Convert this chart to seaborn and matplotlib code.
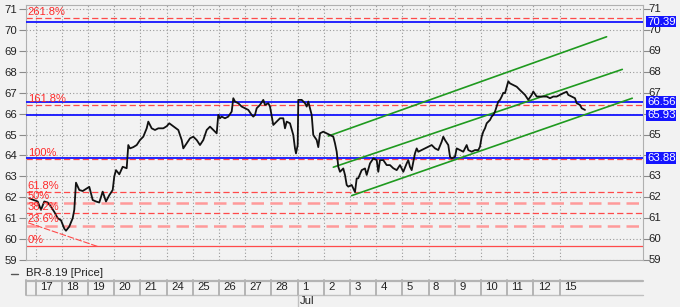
import numpy as np
import pandas as pd
import matplotlib
matplotlib.use("Agg")
import matplotlib.pyplot as plt
import matplotlib.transforms as mtransforms
from matplotlib.lines import Line2D
import seaborn as sns

# ---------------- data ----------------
# trading day labels (June 17 ... July 15)
day_labels = ['17', '18', '19', '20', '21', '24', '25', '26', '27', '28',
              '1', '2', '3', '4', '5', '8', '9', '10', '11', '12', '15']
month_label = 'Jul'
month_label_day = 10

# price path: position in trading days since June 17 open, price
t_days = [-0.244, 0.076, 0.202, 0.328, 0.458, 0.584, 0.710, 0.840, 0.966, 1.092,
          1.156, 1.282, 1.412, 1.473, 1.538, 1.664, 1.794, 1.920, 2.046, 2.176,
          2.302, 2.427, 2.557, 2.683, 2.809, 2.939, 3.000, 3.065, 3.191, 3.321,
          3.473, 3.534, 3.599, 3.725, 3.855, 3.981, 4.107, 4.237, 4.298, 4.427,
          4.553, 4.679, 4.870, 5.000, 5.099, 5.252, 5.443, 5.573, 5.634, 5.763,
          5.889, 6.015, 6.145, 6.271, 6.397, 6.527, 6.653, 6.779, 6.908, 6.969,
          7.034, 7.099, 7.225, 7.351, 7.481, 7.542, 7.607, 7.733, 7.863, 7.989,
          8.115, 8.244, 8.305, 8.370, 8.435, 8.561, 8.687, 8.752, 8.878, 8.943,
          9.069, 9.198, 9.324, 9.450, 9.515, 9.580, 9.706, 9.832, 9.897, 9.935,
          10.000, 10.023, 10.153, 10.279, 10.344, 10.405, 10.534, 10.595, 10.725, 10.786,
          10.851, 10.977, 11.107, 11.233, 11.359, 11.424, 11.489, 11.550, 11.615, 11.740,
          11.805, 11.870, 11.931, 12.061, 12.122, 12.187, 12.252, 12.313, 12.443, 12.569,
          12.634, 12.760, 12.886, 13.015, 13.076, 13.141, 13.267, 13.397, 13.523, 13.649,
          13.779, 13.905, 14.031, 14.160, 14.221, 14.286, 14.351, 14.477, 14.542, 14.603,
          14.733, 14.859, 14.985, 15.115, 15.241, 15.366, 15.496, 15.557, 15.622, 15.748,
          15.813, 15.878, 16.004, 16.069, 16.195, 16.321, 16.450, 16.511, 16.641, 16.767,
          16.893, 16.958, 17.023, 17.084, 17.149, 17.214, 17.275, 17.340, 17.405, 17.466,
          17.531, 17.595, 17.656, 17.721, 17.786, 17.847, 17.912, 18.038, 18.103, 18.229,
          18.359, 18.485, 18.611, 18.676, 18.802, 18.931, 18.992, 19.122, 19.248, 19.374,
          19.504, 19.630, 19.756, 19.885, 20.011, 20.137, 20.267, 20.328, 20.458, 20.584,
          20.649, 20.775, 20.840, 20.966]
price = [61.95, 61.80, 61.40, 61.80, 61.75, 61.55, 61.30, 61.00, 60.90, 60.50,
         60.40, 60.60, 61.00, 61.40, 62.70, 62.35, 62.30, 62.40, 62.50, 61.87,
         61.80, 61.75, 62.27, 61.80, 62.10, 62.35, 63.00, 63.30, 63.10, 63.46,
         63.39, 64.50, 64.34, 64.40, 64.50, 64.74, 64.90, 65.30, 65.62, 65.30,
         65.22, 65.30, 65.30, 65.40, 65.54, 65.40, 65.22, 64.74, 64.34, 64.58,
         64.82, 64.90, 64.74, 64.50, 64.74, 65.22, 65.38, 65.22, 65.06, 65.94,
         65.78, 65.86, 65.78, 65.86, 66.10, 66.74, 66.58, 66.50, 66.34, 66.26,
         66.18, 65.94, 65.86, 65.94, 66.26, 66.42, 66.66, 66.42, 66.50, 66.34,
         65.46, 65.62, 65.78, 65.78, 65.30, 65.62, 65.54, 64.98, 64.34, 64.10,
         64.50, 66.66, 66.66, 66.50, 66.34, 66.58, 65.94, 64.98, 64.74, 64.40,
         65.06, 65.14, 65.06, 64.98, 64.90, 64.58, 64.18, 63.46, 63.22, 63.38,
         63.07, 62.59, 62.51, 62.59, 62.43, 62.25, 62.90, 62.91, 63.30, 63.38,
         63.07, 63.62, 63.86, 63.78, 63.22, 63.78, 63.78, 63.54, 63.54, 63.39,
         63.30, 63.54, 63.22, 63.62, 63.78, 63.46, 63.30, 64.10, 64.34, 64.18,
         64.26, 64.34, 64.42, 64.50, 64.34, 64.26, 64.66, 64.90, 64.74, 64.50,
         63.94, 63.86, 63.94, 64.34, 64.26, 64.18, 64.50, 64.26, 64.18, 64.26,
         64.26, 64.42, 64.90, 65.14, 65.30, 65.54, 65.62, 65.70, 65.86, 65.94,
         66.10, 66.34, 66.58, 66.66, 66.82, 67.00, 66.98, 67.55, 67.45, 67.37,
         67.29, 67.13, 66.98, 66.90, 66.66, 66.90, 67.06, 66.82, 66.82, 66.82,
         66.82, 66.74, 66.82, 66.82, 66.90, 66.98, 67.05, 66.90, 66.82, 66.74,
         66.50, 66.42, 66.26, 66.18]

# Fibonacci levels
fib_labels = ['261.8%', '161.8%', '100%', '61.8%', '50%', '38.2%', '23.6%', '0%']
fib_values = [70.56, 66.40, 63.83, 62.24, 61.75, 61.26, 60.65, 59.67]
fib_heavy = [False, False, False, False, True, False, True, False]
fib_solid = [False, False, False, False, False, False, False, True]
# fib trend line (day, price)
fib_trend_days = [-0.29, 2.38]
fib_trend_prices = [60.78, 59.64]

# horizontal levels (blue)
levels = [70.39, 66.56, 65.93, 63.88]

# green channel lines
chan_start_day = [11.17, 11.36, 12.06]
chan_start_price = [64.93, 63.44, 62.08]
chan_end_day = [21.79, 22.39, 22.77]
chan_end_price = [69.68, 68.12, 66.74]

y_ticks = list(range(59, 72))
right_hidden = [64, 66]   # covered by the level tags on the right scale
series_name = 'BR-8.19 [Price]'

# ---------------- style ----------------
sns.set_style('white')
plt.rcParams['font.family'] = ['Liberation Sans', 'DejaVu Sans']

W, H = 680, 307
BG = '#f2f2f2'
RED = '#ff4a4a'
RED_LIGHT = '#ff9a9a'
BLUE = '#1414ff'
GREEN = '#1f9a1f'
GRID = '#9a9a9a'
FS = 7.7
TXT = '#222222'

fig = plt.figure(figsize=(W / 100, H / 100), dpi=100)
fig.patch.set_facecolor(BG)

def fx(px):
    return px / W

def fy(py):
    return 1 - py / H

L, R, T, B = 26, 643, 5, 260
ax = fig.add_axes([fx(L), fy(B), fx(R) - fx(L), fy(T) - fy(B)])
ax.set_facecolor(BG)

x0 = -0.37
x1 = 23.18
ax.set_xlim(x0, x1)
ax.set_ylim(59, 71.2)

# grid
ax.set_yticks(y_ticks)
ax.set_xticks(np.arange(0, len(day_labels)))
ax.grid(True, color=GRID, linestyle=(0, (1, 2)), linewidth=0.8)
ax.set_axisbelow(True)
ax.tick_params(axis='x', bottom=False, labelbottom=False)
ax.tick_params(axis='y', left=True, right=True, labelleft=True, labelright=False,
               direction='out', length=5, width=0.8, color='#8a8a8a',
               labelsize=FS + 0.5, labelcolor=TXT, pad=1.5)
for s in ax.spines.values():
    s.set_color('#b0b0b0')
    s.set_linewidth(0.8)

btr = mtransforms.blended_transform_factory(ax.transAxes, ax.transData)

# right scale labels
for v in y_ticks:
    if v in right_hidden:
        continue
    ax.text(1.0085, v, str(v), transform=btr, fontsize=FS + 0.5, color=TXT,
            ha='left', va='center', clip_on=False)

# fib lines
for lab, v, heavy, solid in zip(fib_labels, fib_values, fib_heavy, fib_solid):
    if solid:
        ax.axhline(v, color=RED, lw=0.9, zorder=2)
    elif heavy:
        ax.axhline(v, color=RED_LIGHT, lw=1.8, linestyle=(0, (5, 2.5)), zorder=2)
    else:
        ax.axhline(v, color=RED, lw=0.9, linestyle=(0, (5, 2.5)), zorder=2)
    ax.text(0.003, v + 0.06, lab, transform=btr,
            color='#ff2a2a', fontsize=FS + 0.3, ha='left', va='bottom', zorder=6)

ax.plot(fib_trend_days, fib_trend_prices, color=RED, lw=0.8, linestyle=(0, (6, 1.5)), zorder=2)

# blue levels
for v in levels:
    ax.axhline(v, color=BLUE, lw=1.3, zorder=3)
    ax.text(1.0065, v, f'{v:.2f}', transform=btr, color='white', fontsize=FS + 0.5,
            ha='left', va='center', zorder=7, clip_on=False,
            bbox=dict(facecolor=BLUE, edgecolor='none', pad=0.4))

# green channel
for xs, ys, xe, ye in zip(chan_start_day, chan_start_price, chan_end_day, chan_end_price):
    ax.plot([xs, xe], [ys, ye], color=GREEN, lw=1.2, zorder=4)

# price
df = pd.DataFrame({'day': t_days, 'price': price})
sns.lineplot(data=df, x='day', y='price', ax=ax, color='#111111', lw=1.3,
             estimator=None, sort=False, zorder=5)
ax.set_xlabel('')
ax.set_ylabel('')

# ---------------- date band ----------------
bt = mtransforms.blended_transform_factory(ax.transData, fig.transFigure)
fig.add_artist(Line2D([fx(L), fx(R)], [fy(280.5), fy(280.5)], color='#b4b4b4', lw=1.6))
fig.add_artist(Line2D([fx(L), fx(R)], [fy(295), fy(295)], color='#c0c0c0', lw=1.0))
fig.add_artist(Line2D([fx(L), fx(L)], [fy(280), fy(295)], color='#b4b4b4', lw=1.4))
for i, lab in enumerate(day_labels):
    fig.add_artist(Line2D([i, i], [fy(280), fy(295)], color='#b4b4b4', lw=1.4, transform=bt))
    fig.text(i + 0.16, fy(287.5), lab, transform=bt, fontsize=FS + 0.5,
             ha='left', va='center', color=TXT)
fig.add_artist(Line2D([month_label_day, month_label_day], [fy(295), fy(307)],
                      color='#c0c0c0', lw=1.0, transform=bt))
fig.text(month_label_day + 0.1, fy(301.5), month_label, transform=bt, fontsize=FS + 0.5,
         ha='left', va='center', color=TXT)

# legend
fig.add_artist(Line2D([fx(11), fx(18)], [fy(273.5), fy(273.5)], color='#555555', lw=1.0))
fig.text(fx(26), fy(273.5), series_name, fontsize=FS + 0.5, ha='left', va='center', color=TXT)

fig.savefig('out.png', dpi=100, facecolor=BG)
